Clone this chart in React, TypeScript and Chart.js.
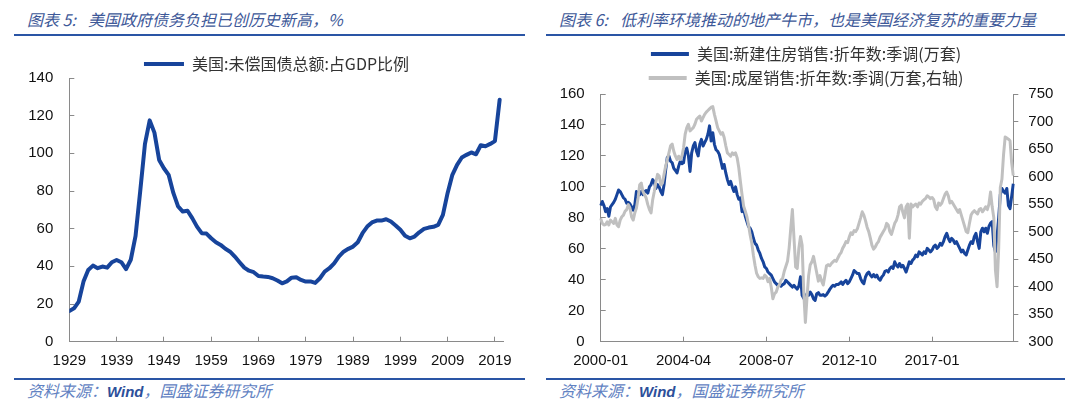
import React, { useEffect, useRef } from "react";
import { Chart, registerables } from "chart.js";

Chart.register(...registerables);

// ---------------- data ----------------
const debtFirstYear = 1929;
// 美国:未偿国债总额:占GDP比例 (%), 1929-2020
const debtRatio = [
  16.3, 17.7, 21.3, 31.9, 38.1, 40.4, 39.0, 39.9, 39.3, 42.2,
  43.4, 42.2, 38.5, 43.5, 56.0, 80.0, 105.0, 117.5, 111.0, 96.5,
  92.1, 88.6, 79.0, 71.8, 69.1, 69.5, 65.6, 61.1, 57.6, 57.4,
  54.9, 52.8, 51.4, 49.3, 47.8, 45.2, 42.2, 39.3, 37.7, 36.9,
  34.9, 34.6, 34.4, 33.7, 32.5, 31.0, 32.0, 34.0, 34.2, 32.8,
  31.9, 32.0, 31.2, 33.7, 37.2, 39.0, 41.6, 45.2, 47.8, 49.3,
  50.5, 52.8, 57.6, 61.1, 63.3, 64.3, 64.3, 65.0, 63.8, 61.7,
  59.4, 56.2, 54.9, 55.8, 58.1, 59.9, 60.6, 61.0, 62.0, 67.3,
  79.0, 88.6, 93.9, 97.8, 99.2, 100.5, 99.5, 104.3, 103.8, 105.0,
  106.5, 128.5,
];
const debtTickYears = [1929, 1939, 1949, 1959, 1969, 1979, 1989, 1999, 2009, 2019];

const houseFirstYear = 2000;
// 美国:新建住房销售:折年数:季调 (万套), 2000-01 .. 2021-03
const newHomeSales = [
  88, 90.6, 88, 84, 86, 81, 87, 88.5, 90, 92, 95, 98,
  97, 95, 93, 92, 89.5, 90, 89, 87, 85, 88.5, 97, 96,
  95, 97, 95, 97, 97.6, 96, 100, 101.5, 104.7, 103, 99, 101.5,
  100, 97, 95, 101.5, 111, 119, 120, 116.6, 115.6, 112, 110.6, 109,
  113.4, 116.6, 115, 115.6, 123, 125, 120, 110, 122, 126.4, 128.6, 123,
  120, 127.5, 130.7, 126.4, 128.6, 130.7, 134, 139.4, 129.6, 135, 127.5, 124,
  123, 121, 116.6, 112, 114.5, 109, 104.7, 101.5, 103.6, 100, 97, 100,
  95, 92, 93, 84, 86, 81, 77.6, 74.4, 73.3, 71, 66.8, 63.5,
  62.4, 59.2, 57, 53.8, 51.6, 48.3, 47.3, 45, 44, 43, 40.8, 38.6,
  37.5, 36.4, 36.9, 35.8, 36.9, 37.5, 39.7, 38.6, 37.5, 36.4, 35.3, 36.4,
  35, 34, 36, 42, 30, 28, 28.8, 31, 30, 32, 30.4, 27.7,
  26.7, 31, 31.7, 30, 30, 30.4, 29.5, 30.4, 32, 33.8, 35.3, 36.4,
  35.8, 37, 36.9, 37.5, 38.6, 37, 38.6, 39.7, 37.5, 38.6, 40.8, 43,
  46, 45, 44, 44, 40.8, 38.6, 37.5, 41.8, 44, 45, 43, 41.8,
  43.4, 41.8, 43, 40.8, 39.7, 41.8, 43, 45.5, 46, 45, 47.3, 48.3,
  47.3, 51.6, 49.4, 48.3, 50.5, 48.3, 49.4, 47.3, 45, 48.3, 51.6, 50.5,
  52.7, 53.8, 56, 54.9, 58, 57, 56, 58, 57, 60.3, 59.2, 58,
  59.2, 61.4, 62.4, 60.3, 61.4, 63.5, 62.4, 64.6, 67.9, 70, 66.8, 64.6,
  66.8, 65.7, 63.5, 64.6, 62.4, 60.3, 58, 59.2, 57, 56, 59.2, 62.4,
  64.6, 63.5, 67.9, 70, 64.6, 60.3, 71, 73.3, 71, 73.3, 70, 74.4,
  76.6, 77.6, 62, 58, 68, 80, 95, 99, 97, 96, 99, 88,
  86, 94, 102,
];
// 美国:成屋销售:折年数:季调 (万套, 右轴)
const existingHomeSales = [
  524, 515, 512, 513, 518, 512, 521, 518, 515, 524, 512, 509,
  521, 527, 530, 537, 540, 549, 543, 527, 521, 534, 543, 561,
  585, 588, 573, 567, 561, 549, 540, 534, 558, 573, 591, 604,
  601, 585, 588, 604, 619, 631, 643, 656, 659, 646, 637, 631,
  637, 631, 637, 652, 677, 689, 695, 683, 686, 689, 695, 704,
  707, 710, 701, 707, 713, 717, 720, 723, 726, 727, 713, 701,
  689, 683, 677, 680, 671, 656, 643, 640, 637, 643, 640, 643,
  634, 616, 591, 567, 546, 537, 527, 512, 494, 479, 457, 439,
  424, 418, 415, 416, 415, 421, 418, 409, 415, 399, 378, 387,
  390, 399, 403, 412, 415, 428, 437, 446, 470, 506, 540, 488,
  436, 433, 470, 491, 475, 390, 335, 380, 420, 440, 445, 455,
  440, 425, 410, 420, 410, 403, 420, 438, 440, 438, 442, 445,
  448, 446, 452, 458, 462, 470, 475, 482, 480, 490, 498, 495,
  502, 500, 505, 515, 525, 536, 530, 520, 508, 500, 488, 475,
  468, 472, 478, 482, 490, 495, 500, 505, 515, 512, 500, 495,
  505, 515, 520, 530, 545, 548, 535, 525, 545, 550, 488, 550,
  545, 548, 550, 545, 552, 550, 555, 558, 560, 565, 563, 560,
  562, 558, 545, 540, 552, 548, 552, 560, 568, 572, 565, 552,
  555, 550, 545, 540, 535, 540, 530, 520, 510, 500, 498, 515,
  530, 535, 538, 535, 532, 540, 542, 536, 540, 545, 540, 550,
  572, 545, 525, 430, 400, 470, 580, 595, 640, 672, 670, 668,
  665, 625, 602,
];
const houseTickLabels = ["2000-01", "2004-04", "2008-07", "2012-10", "2017-01"];

// ---------------- styles ----------------
const BLUE = "#17449b";
const GRAY = "#c0c0c0";
const AXIS = "#8a8a8a";
const TICK_COLOR = "#111111";
const TICK_FONT = { family: "'Liberation Sans', Arial, sans-serif", size: 15 };
const LEGEND_FONT = { family: "'Noto Sans CJK SC', sans-serif", size: 16 };
const TITLE_COLOR = "#3d5898";
const FOOT_COLOR = "#6282c2";
const RULE_COLOR = "#2a55a5";

const debtYears = debtRatio.map((_, i) => debtFirstYear + i);
const houseLabels = newHomeSales.map((_, i) => {
  const y = houseFirstYear + Math.floor(i / 12);
  const m = (i % 12) + 1;
  return `${y}-${m < 10 ? "0" + m : m}`;
});

// trims the legend box height and optionally shifts it horizontally
const legendTweak = (trim: number, dx: number) => ({
  id: "legendTweak",
  afterInit(chart: any) {
    const lg = chart.legend;
    if (!lg) return;
    const orig = lg.fit.bind(lg);
    lg.fit = () => {
      orig();
      lg.height = Math.max(0, lg.height - trim);
    };
  },
  afterLayout(chart: any) {
    const lg = chart.legend;
    if (!lg || !dx) return;
    lg.left += dx;
    lg.right += dx;
  },
});

const lineLegendLabels = (chart: any) => {
  const items = (Chart.defaults as any).plugins.legend.labels.generateLabels(chart);
  return items.map((it: any) => ({ ...it, lineWidth: 0, fillStyle: it.strokeStyle }));
};

function DebtChart() {
  const ref = useRef<HTMLCanvasElement | null>(null);
  useEffect(() => {
    if (!ref.current) return;
    const chart = new Chart(ref.current, {
      type: "line",
      data: {
        datasets: [
          {
            label: "美国:未偿国债总额:占GDP比例",
            data: debtRatio.map((v, i) => ({ x: debtYears[i], y: v })),
            borderColor: BLUE,
            backgroundColor: BLUE,
            borderWidth: 4,
            pointRadius: 0,
            borderJoinStyle: "round",
            borderCapStyle: "round",
          },
        ],
      },
      options: {
        responsive: false,
        animation: false,
        layout: { padding: { top: 10, left: 0, right: 20, bottom: 0 } },
        plugins: {
          tooltip: { enabled: false },
          legend: {
            position: "top",
            labels: {
              boxWidth: 40,
              boxHeight: 4,
              padding: 8,
              font: LEGEND_FONT,
              color: "#333333",
              generateLabels: lineLegendLabels,
            },
          },
        },
        scales: {
          x: {
            type: "linear",
            bounds: "data",
            min: 1929,
            max: 2020.8,
            afterBuildTicks: (axis: any) => {
              axis.ticks = debtTickYears.map((v) => ({ value: v }));
            },
            afterFit: (s: any) => {
              s.height = 33.3;
            },
            ticks: {
              callback: (v: any) => String(v),
              font: TICK_FONT,
              color: TICK_COLOR,
              padding: 15,
              maxRotation: 0,
              autoSkip: false,
            },
            grid: { display: true, drawOnChartArea: false, drawTicks: true, tickLength: -5, color: AXIS, tickColor: AXIS },
            border: { display: true, color: AXIS, width: 1 },
          },
          y: {
            min: 0,
            max: 140,
            afterFit: (s: any) => {
              s.width = 55.3;
            },
            ticks: { stepSize: 20, font: TICK_FONT, color: TICK_COLOR, padding: 21 },
            grid: { display: true, drawOnChartArea: false, drawTicks: true, tickLength: -5, color: AXIS, tickColor: AXIS },
            border: { display: true, color: AXIS, width: 1 },
          },
        },
      } as any,
      plugins: [legendTweak(4, 16)],
    });
    return () => chart.destroy();
  }, []);
  return <canvas ref={ref} width={513} height={337} style={{ position: "absolute", left: 14, top: 38 }} />;
}

function HousingChart() {
  const ref = useRef<HTMLCanvasElement | null>(null);
  useEffect(() => {
    if (!ref.current) return;
    const tickSet = new Set(houseTickLabels);
    const chart = new Chart(ref.current, {
      type: "line",
      data: {
        labels: houseLabels,
        datasets: [
          {
            label: "美国:新建住房销售:折年数:季调(万套)",
            data: newHomeSales,
            borderColor: BLUE,
            backgroundColor: BLUE,
            borderWidth: 3,
            pointRadius: 0,
            yAxisID: "y",
            order: 1,
            borderJoinStyle: "round",
          },
          {
            label: "美国:成屋销售:折年数:季调(万套,右轴)",
            data: existingHomeSales,
            borderColor: GRAY,
            backgroundColor: GRAY,
            borderWidth: 3,
            pointRadius: 0,
            yAxisID: "y1",
            order: 0,
            borderJoinStyle: "round",
          },
        ],
      },
      options: {
        responsive: false,
        animation: false,
        layout: { padding: { top: 0, left: 0, right: 0, bottom: 0 } },
        plugins: {
          tooltip: { enabled: false },
          legend: {
            position: "top",
            labels: {
              boxWidth: 38,
              boxHeight: 4,
              padding: 8,
              font: LEGEND_FONT,
              color: "#333333",
              generateLabels: lineLegendLabels,
              sort: (a: any, b: any) => a.datasetIndex - b.datasetIndex,
            },
          },
        },
        scales: {
          x: {
            type: "category",
            afterBuildTicks: (axis: any) => {
              axis.ticks = axis.ticks.filter((t: any) => tickSet.has(houseLabels[t.value]));
            },
            afterFit: (s: any) => {
              s.height = 33.3;
            },
            ticks: { font: TICK_FONT, color: TICK_COLOR, padding: 15, maxRotation: 0, autoSkip: false },
            grid: { display: true, drawOnChartArea: false, drawTicks: true, tickLength: -5, color: AXIS, tickColor: AXIS },
            border: { display: true, color: AXIS, width: 1 },
          },
          y: {
            position: "left",
            min: 0,
            max: 160,
            afterFit: (s: any) => {
              s.width = 54.7;
            },
            ticks: { stepSize: 20, font: TICK_FONT, color: TICK_COLOR, padding: 21 },
            grid: { display: true, drawOnChartArea: false, drawTicks: true, tickLength: -5, color: AXIS, tickColor: AXIS },
            border: { display: true, color: AXIS, width: 1 },
          },
          y1: {
            position: "right",
            min: 300,
            max: 750,
            afterFit: (s: any) => {
              s.width = 52.7;
            },
            ticks: { stepSize: 50, font: TICK_FONT, color: TICK_COLOR, padding: 10 },
            grid: { display: true, drawOnChartArea: false, drawTicks: true, tickLength: 5, color: AXIS, tickColor: AXIS },
            border: { display: true, color: AXIS, width: 1 },
          },
        },
      } as any,
      plugins: [legendTweak(2, 0)],
    });
    return () => chart.destroy();
  }, []);
  return <canvas ref={ref} width={520} height={337} style={{ position: "absolute", left: 546, top: 38 }} />;
}

const textBase: React.CSSProperties = {
  position: "absolute",
  fontFamily: "'Noto Sans CJK SC', sans-serif",
  fontStyle: "italic",
  fontSize: 16,
  letterSpacing: "0px",
  lineHeight: "22px",
  whiteSpace: "nowrap",
};

function Rule({ left, top, width }: { left: number; top: number; width: number }) {
  return <div style={{ position: "absolute", left, top, width, height: 2, background: RULE_COLOR }} />;
}

function Title({ left, label, text }: { left: number; label: string; text: string }) {
  return (
    <div style={{ ...textBase, left, top: 8, color: TITLE_COLOR }}>
      <span>{label}</span>
      <span style={{ marginLeft: 12 }}>{text}</span>
    </div>
  );
}

function Footer({ left }: { left: number }) {
  return (
    <div style={{ ...textBase, left, top: 379, color: FOOT_COLOR }}>
      资料来源：
      <span style={{ fontFamily: "'Liberation Sans', Arial, sans-serif", fontWeight: 700, color: "#2d4f9a", fontSize: 15 }}>
        Wind
      </span>
      ，国盛证券研究所
    </div>
  );
}

export default function App() {
  return (
    <div
      style={{
        position: "absolute",
        left: 0,
        top: 0,
        width: 1080,
        height: 409,
        background: "#ffffff",
        overflow: "hidden",
      }}
    >
      <Title left={27} label="图表 5:" text="美国政府债务负担已创历史新高，%" />
      <Title left={559} label="图表 6:" text="低利率环境推动的地产牛市，也是美国经济复苏的重要力量" />
      <Rule left={14} top={34} width={511} />
      <Rule left={546} top={34} width={519} />
      <DebtChart />
      <HousingChart />
      <Rule left={14} top={378} width={511} />
      <Rule left={546} top={378} width={519} />
      <Footer left={27} />
      <Footer left={559} />
    </div>
  );
}
